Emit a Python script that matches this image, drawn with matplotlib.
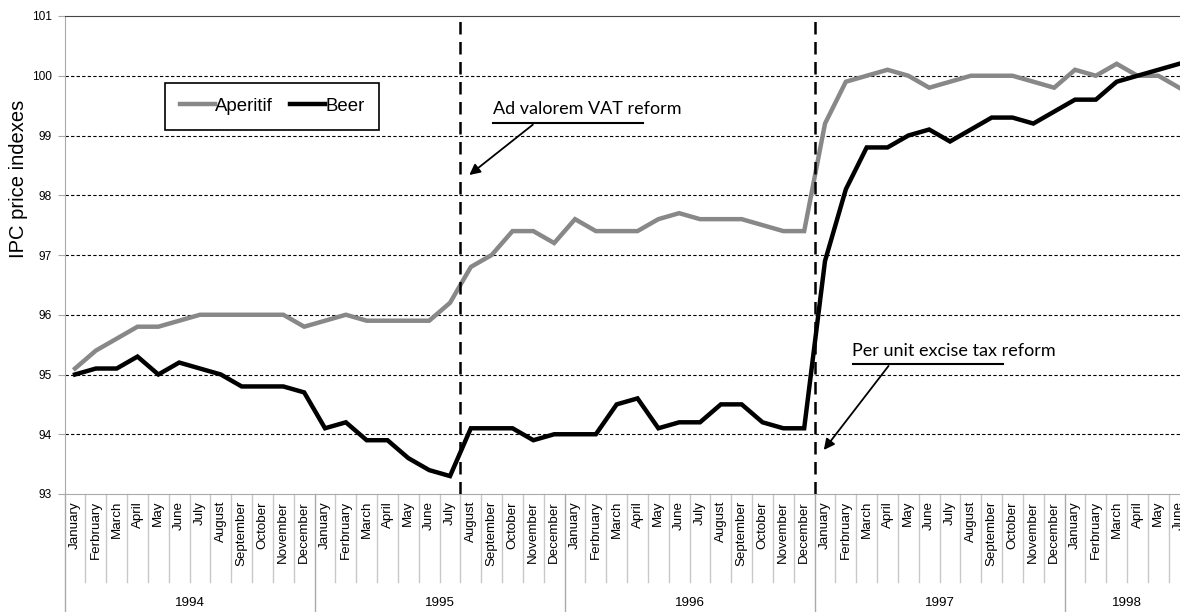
import matplotlib.pyplot as plt

months = ["January", "Ferbruary", "March", "April", "May", "June", "July",
          "August", "September", "October", "November", "December"]
years = ["1994", "1995", "1996", "1997", "1998"]
months_per_year = [12, 12, 12, 12, 6]

aperitif = [95.1, 95.4, 95.6, 95.8, 95.8, 95.9, 96.0, 96.0, 96.0, 96.0, 96.0, 95.8,
            95.9, 96.0, 95.9, 95.9, 95.9, 95.9, 96.2, 96.8, 97.0, 97.4, 97.4, 97.2,
            97.6, 97.4, 97.4, 97.4, 97.6, 97.7, 97.6, 97.6, 97.6, 97.5, 97.4, 97.4,
            99.2, 99.9, 100.0, 100.1, 100.0, 99.8, 99.9, 100.0, 100.0, 100.0, 99.9, 99.8,
            100.1, 100.0, 100.2, 100.0, 100.0, 99.8]
beer = [95.0, 95.1, 95.1, 95.3, 95.0, 95.2, 95.1, 95.0, 94.8, 94.8, 94.8, 94.7,
        94.1, 94.2, 93.9, 93.9, 93.6, 93.4, 93.3, 94.1, 94.1, 94.1, 93.9, 94.0,
        94.0, 94.0, 94.5, 94.6, 94.1, 94.2, 94.2, 94.5, 94.5, 94.2, 94.1, 94.1,
        96.9, 98.1, 98.8, 98.8, 99.0, 99.1, 98.9, 99.1, 99.3, 99.3, 99.2, 99.4,
        99.6, 99.6, 99.9, 100.0, 100.1, 100.2]

# reform dates (between months)
vat_reform = 18.5     # July/August 1995
excise_reform = 35.5  # December 1996/January 1997

month_labels = []
for n in months_per_year:
    month_labels += months[:n]
x = list(range(len(month_labels)))

plt.rcParams['font.family'] = ['Liberation Sans', 'DejaVu Sans']

fig = plt.figure(figsize=(11.8, 6.12), dpi=100)
ax = fig.add_axes([64.6 / 1180, 118 / 612, 1125 / 1180, 478 / 612])

ax.plot(x, aperitif, color='#888888', lw=3.2, label='Aperitif', solid_joinstyle='miter')
ax.plot(x, beer, color='black', lw=3.2, label='Beer', solid_joinstyle='miter')

ax.set_ylim(93, 101)
ax.set_xlim(-0.5, len(x) - 0.5)
ax.set_yticks(range(93, 102))
ax.tick_params(axis='y', labelsize=8.6, length=5, color='#aaaaaa', pad=4)
for v in range(94, 101):
    ax.axhline(v, color='black', lw=0.8, ls=(0, (3, 2)), zorder=0)

for xv in (vat_reform, excise_reform):
    ax.axvline(xv, color='black', lw=1.8, ls=(0, (5, 3)), zorder=3)

ax.set_xticks(x)
ax.set_xticklabels(month_labels, rotation=90, fontsize=9.6)
ax.tick_params(axis='x', length=0, pad=5)

ax.spines['right'].set_visible(False)
ax.spines['top'].set_color('#444444')
ax.spines['left'].set_color('#aaaaaa')
ax.spines['bottom'].set_color('#aaaaaa')

ax.set_ylabel('IPC price indexes', fontsize=14.5)
ax.yaxis.set_label_coords(-0.0325, 0.659)

# category separators below the axis
trans = ax.get_xaxis_transform()
start = 0
for yr, n in zip(years, months_per_year):
    for i in range(1, n):
        ax.plot([start + i - 0.5] * 2, [0, -88 / 478], transform=trans,
                color='#c8c8c8', lw=1, clip_on=False)
    ax.plot([start - 0.5] * 2, [0, -118 / 478], transform=trans,
            color='#aaaaaa', lw=1, clip_on=False)
    ax.text(start + (n - 1) / 2, -109 / 478, yr, transform=trans,
            ha='center', va='center', fontsize=9.6)
    start += n

leg = ax.legend(loc='upper left', bbox_to_anchor=(165 / 1180, 1 - 83 / 612),
                bbox_transform=fig.transFigure, ncol=2, fontsize=13.4,
                handlelength=1.9, handletextpad=0.0, columnspacing=0.9,
                fancybox=False, edgecolor='black', framealpha=1,
                borderpad=0.8, borderaxespad=0)
leg.get_frame().set_linewidth(1.2)

# reform annotations
ax.text(20.07, 99.44, 'Ad valorem VAT reform', family='Lato', fontsize=13,
        va='center', ha='left')
ax.plot([20.07, 27.27], [99.21, 99.21], color='black', lw=1.5)
ax.annotate('', xy=(18.82, 98.31), xytext=(22.08, 99.21),
            arrowprops=dict(arrowstyle='-|>', color='black', lw=1.3,
                            mutation_scale=16))

ax.text(37.3, 95.39, 'Per unit excise tax reform', family='Lato', fontsize=13,
        va='center', ha='left')
ax.plot([37.35, 44.55], [95.18, 95.18], color='black', lw=1.5)
ax.annotate('', xy=(35.86, 93.70), xytext=(39.13, 95.18),
            arrowprops=dict(arrowstyle='-|>', color='black', lw=1.3,
                            mutation_scale=16))

fig.savefig('out.png', dpi=100)
